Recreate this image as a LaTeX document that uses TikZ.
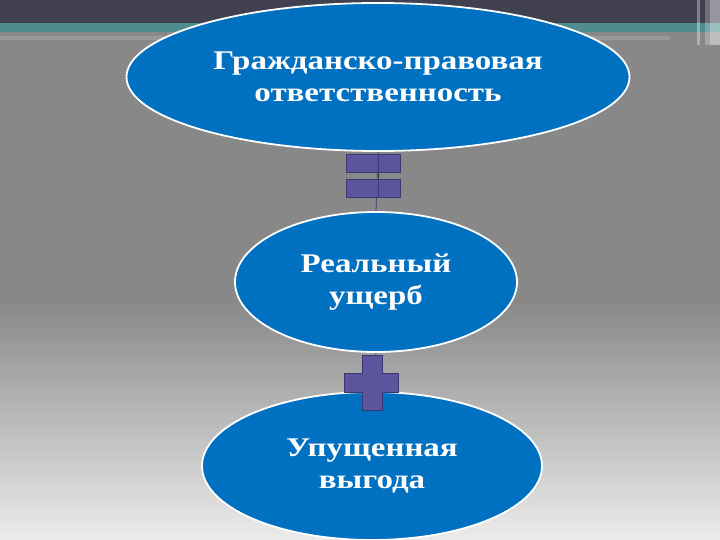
\documentclass[tikz,border=0pt]{standalone}
\usepackage{fontspec}
\setmainfont{Liberation Serif}
\newfontfamily\ovalfont[FakeStretch=1.22]{Liberation Serif}
\usetikzlibrary{shapes.geometric}
\definecolor{ellblue}{RGB}{0,112,192}
\definecolor{signfill}{RGB}{92,84,156}
\definecolor{signdraw}{RGB}{58,56,110}
\definecolor{topbar}{RGB}{64,64,80}
\definecolor{tealbar}{RGB}{78,140,142}
\definecolor{bggrey}{RGB}{136,136,136}
\definecolor{bglight}{RGB}{236,236,236}
\tikzset{
  oval/.style={ellipse, fill=ellblue, draw=white, line width=1.8pt, inner sep=0pt,
    text=white, align=center, font=\ovalfont\bfseries\fontsize{27}{32}\selectfont},
  signbox/.style={rectangle, fill=signfill, draw=signdraw, line width=0.8pt, inner sep=0pt},
  thinline/.style={draw=signdraw, line width=0.7pt}
}
\begin{document}
\begin{tikzpicture}[x=1pt,y=-1pt]
\useasboundingbox (0,0) rectangle (720,540);
% background
\fill[bggrey] (0,0) rectangle (720,540);
\shade[top color=bggrey, bottom color=bglight] (0,300) rectangle (720,540);
\fill[topbar] (0,0) rectangle (720,23);
\fill[tealbar] (0,23) rectangle (720,32);
\fill[white, opacity=0.15] (0,36) rectangle (670,40);
\fill[white, opacity=0.35] (697,0) rectangle (700,45);
\fill[white, opacity=0.25] (705,0) rectangle (710,45);
\fill[white, opacity=0.45] (710,0) rectangle (720,45);
% nodes
\node[oval, minimum width=503pt, minimum height=148pt] (top) at (378,77)
  {Гражданско-правовая\\ответственность};
\node[oval, minimum width=282pt, minimum height=140pt] (mid) at (376,282)
  {Реальный\\ущерб};
\node[oval, minimum width=340pt, minimum height=148pt] (bot) at (372,466)
  {Упущенная\\выгода};
% connectors
\draw[thinline] (top.south) -- (mid.north);
\node[signbox, minimum width=54pt, minimum height=18pt] (eq1) at (373,163) {};
\node[signbox, minimum width=54pt, minimum height=18pt] (eq2) at (373,188) {};
\draw[thinline] (eq1.north -| top.south) -- (eq2.south -| top.south);
\draw[thinline] (mid.south) -- (bot.north);
\draw[fill=signfill, draw=signdraw, line width=0.8pt]
  (362,355) -- (382,355) -- (382,373) -- (398,373) -- (398,392) -- (382,392)
  -- (382,410) -- (362,410) -- (362,392) -- (344,392) -- (344,373) -- (362,373) -- cycle;
\end{tikzpicture}
\end{document}
